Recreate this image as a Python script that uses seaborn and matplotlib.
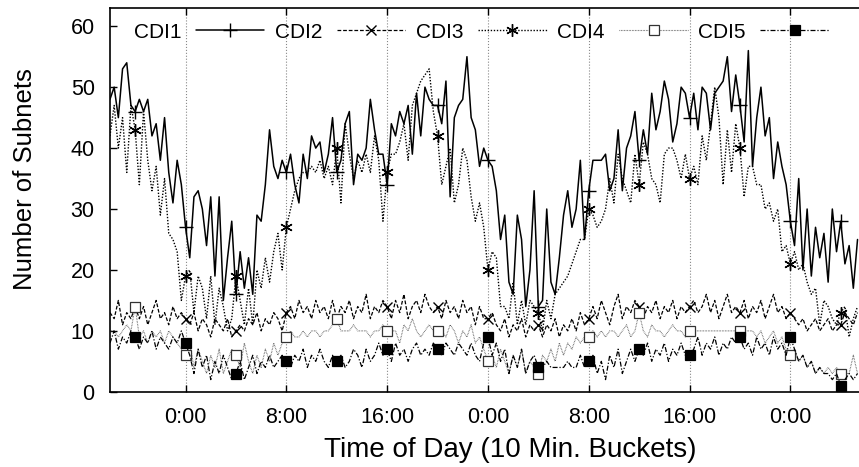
import numpy as np
import pandas as pd
import matplotlib
matplotlib.use('Agg')
import matplotlib.pyplot as plt
import seaborn as sns

# 20-minute samples, hours relative to the first midnight
horas = np.arange(179) / 3 - 6

cdi1 = [48, 50, 45, 53, 54, 47, 46, 48, 46, 48, 42, 44, 38, 45, 36, 31, 38, 34, 27, 22,
        32, 33, 30, 24, 32, 19, 32, 15, 22, 28, 16, 23, 17, 22, 16, 29, 28, 34, 43, 37,
        35, 38, 36, 39, 34, 31, 39, 35, 42, 40, 41, 36, 39, 45, 36, 38, 44, 46, 34, 39,
        38, 40, 48, 43, 39, 39, 34, 44, 42, 46, 44, 47, 39, 49, 42, 50, 48, 47, 47, 44,
        51, 32, 45, 47, 48, 55, 45, 43, 37, 40, 38, 37, 33, 25, 29, 18, 16, 29, 25, 14,
        20, 33, 14, 15, 30, 18, 16, 22, 29, 33, 27, 30, 38, 25, 33, 38, 38, 38, 39, 33,
        35, 43, 33, 40, 42, 46, 38, 43, 39, 49, 43, 46, 51, 48, 41, 44, 50, 49, 45, 49,
        43, 50, 49, 43, 49, 50, 51, 55, 46, 52, 47, 41, 56, 37, 45, 50, 42, 45, 35, 41,
        37, 34, 28, 24, 35, 20, 30, 19, 27, 22, 26, 18, 30, 23, 28, 21, 24, 17, 25]

cdi2 = [13, 12, 15, 11, 13, 12, 14, 12, 14, 11, 13, 15, 12, 13, 11, 14, 12, 13, 12, 11,
        13, 10, 12, 11, 9, 12, 11, 10, 12, 9, 10, 11, 10, 12, 11, 13, 10, 12, 11, 13,
        12, 10, 13, 14, 12, 15, 13, 14, 12, 15, 13, 14, 12, 15, 12, 14, 13, 15, 12, 14,
        13, 16, 12, 14, 13, 15, 14, 12, 15, 13, 16, 12, 14, 15, 13, 16, 14, 13, 14, 12,
        15, 13, 14, 12, 15, 13, 14, 11, 14, 12, 12, 13, 11, 10, 12, 9, 11, 10, 12, 9,
        11, 10, 11, 9, 11, 10, 12, 9, 11, 10, 12, 10, 13, 11, 12, 14, 12, 15, 13, 11,
        14, 16, 12, 14, 13, 15, 14, 12, 14, 13, 15, 12, 14, 13, 15, 12, 14, 13, 14, 15,
        13, 14, 16, 13, 15, 12, 14, 16, 13, 14, 13, 15, 12, 14, 13, 15, 12, 14, 16, 13,
        14, 12, 13, 12, 11, 12, 10, 11, 12, 10, 11, 12, 10, 11, 11, 13, 12, 11, 13]

cdi3 = [42, 47, 40, 45, 36, 47, 43, 34, 46, 38, 33, 37, 29, 35, 26, 25, 23, 15, 19, 20,
        13, 19, 17, 12, 19, 11, 17, 14, 10, 12, 19, 15, 11, 17, 11, 20, 17, 22, 18, 23,
        26, 20, 27, 30, 33, 35, 36, 36, 37, 36, 38, 35, 37, 34, 40, 31, 44, 39, 35, 38,
        36, 39, 36, 42, 38, 28, 36, 39, 39, 41, 44, 38, 47, 49, 51, 52, 53, 46, 42, 34,
        37, 40, 31, 34, 40, 38, 32, 28, 31, 27, 20, 23, 22, 14, 14, 12, 18, 11, 15, 11,
        15, 14, 13, 10, 15, 12, 16, 17, 18, 19, 21, 23, 25, 25, 30, 29, 27, 28, 30, 35,
        31, 39, 35, 33, 31, 39, 34, 41, 39, 35, 34, 31, 39, 40, 40, 38, 35, 39, 35, 37,
        34, 42, 38, 44, 50, 45, 34, 43, 36, 44, 40, 32, 37, 37, 34, 34, 30, 31, 28, 30,
        23, 24, 21, 23, 20, 21, 18, 16, 17, 11, 15, 14, 12, 11, 13, 14, 9, 12, 14]

cdi4 = [10, 10, 9, 10, 11, 10, 14, 9, 10, 8, 10, 9, 10, 8, 10, 9, 8, 7, 6, 8,
        4, 7, 5, 3, 6, 4, 7, 3, 5, 7, 6, 4, 8, 5, 3, 6, 4, 7, 5, 8,
        6, 8, 9, 10, 9, 9, 10, 9, 10, 10, 9, 10, 10, 11, 12, 10, 10, 10, 11, 10,
        10, 10, 9, 10, 10, 11, 10, 10, 10, 8, 11, 10, 12, 10, 9, 10, 11, 10, 10, 10,
        9, 11, 10, 8, 10, 9, 11, 8, 9, 7, 5, 6, 4, 7, 5, 3, 6, 4, 7, 3,
        5, 4, 3, 6, 5, 7, 5, 8, 6, 8, 7, 9, 8, 9, 9, 10, 9, 10, 9, 10,
        10, 9, 10, 11, 9, 10, 13, 10, 9, 11, 10, 10, 9, 10, 11, 10, 10, 9, 10, 10,
        10, 10, 10, 10, 10, 10, 10, 10, 10, 10, 10, 10, 10, 10, 9, 10, 8, 9, 10, 8,
        9, 7, 6, 7, 5, 6, 4, 5, 3, 4, 3, 4, 3, 4, 3, 3, 3, 6, 3]

cdi5 = [8, 10, 7, 9, 8, 10, 9, 7, 9, 8, 10, 7, 9, 8, 7, 9, 8, 10, 8, 6,
        3, 7, 4, 6, 2, 5, 3, 6, 4, 2, 3, 5, 2, 4, 6, 3, 5, 4, 6, 4,
        5, 6, 5, 4, 6, 5, 7, 4, 6, 5, 7, 5, 4, 6, 5, 6, 4, 5, 7, 6,
        4, 7, 5, 6, 8, 6, 7, 5, 8, 6, 7, 5, 7, 8, 6, 7, 6, 8, 7, 6,
        8, 7, 6, 8, 7, 6, 8, 6, 5, 8, 9, 6, 8, 5, 7, 3, 6, 4, 7, 3,
        5, 6, 4, 4, 5, 4, 4, 4, 4, 5, 4, 4, 6, 4, 5, 6, 3, 5, 2, 6,
        4, 7, 3, 5, 7, 5, 7, 6, 8, 5, 7, 6, 8, 5, 7, 6, 8, 6, 6, 7,
        9, 6, 8, 7, 9, 6, 8, 7, 9, 8, 9, 7, 8, 6, 9, 7, 8, 6, 9, 7,
        8, 6, 9, 7, 5, 6, 4, 5, 3, 4, 3, 3, 2, 3, 1, 2, 3, 2, 3]

nomes = ['CDI1', 'CDI2', 'CDI3', 'CDI4', 'CDI5']
tick_horas = [0, 8, 16, 24, 32, 40, 48]
tick_labels = ['0:00', '8:00', '16:00', '0:00', '8:00', '16:00', '0:00']

sns.set_style('ticks', {'text.color': 'black', 'axes.labelcolor': 'black',
                        'xtick.color': 'black', 'ytick.color': 'black',
                        'axes.edgecolor': 'black'})
plt.rcParams['font.family'] = ['Liberation Sans', 'DejaVu Sans']

fig = plt.figure(figsize=(8.59, 4.67), dpi=100)
ax = fig.add_axes([0.128, 0.161, 0.872, 0.822])

estilos = [
    dict(color='black', linestyle='-', lw=1.1, marker='+', ms=10, mew=1.0, mec='black'),
    dict(color='black', linestyle=(0, (3, 1.5)), lw=0.9, marker='x', ms=7, mew=1.0, mec='black'),
    dict(color='black', linestyle=(0, (1, 1.2)), lw=1.0, marker=(6, 2, 0), ms=9, mew=1.0, mec='black'),
    dict(color='#555555', linestyle=(0, (0.6, 0.8)), lw=0.8, marker='s', ms=7, mew=0.9,
         mfc='white', mec='#333333'),
    dict(color='black', linestyle=(0, (4, 1.5, 1, 1.5)), lw=0.9, marker='s', ms=7, mew=0.9,
         mfc='black', mec='black'),
]
series = [cdi1, cdi2, cdi3, cdi4, cdi5]

for nome, vals, st in zip(nomes, series, estilos):
    sns.lineplot(x=horas, y=vals, ax=ax, label=nome, markevery=(6, 12), **st)

ax.set_xlim(-6, 53.45)
ax.set_ylim(0, 63)
ax.set_xticks(tick_horas)
ax.set_xticklabels(tick_labels)
ax.set_yticks(range(0, 61, 10))
ax.grid(axis='x', linestyle=':', color='#888888', lw=0.8)
ax.tick_params(direction='in', top=True, right=False, length=5, width=1,
               labelsize=15.5, pad=11, colors='black')
ax.spines['right'].set_visible(False)
for s in ['left', 'top', 'bottom']:
    ax.spines[s].set_linewidth(1.2)

ax.set_xlabel('Time of Day (10 Min. Buckets)', fontsize=20)
ax.set_ylabel('Number of Subnets', fontsize=18.5)
ax.xaxis.set_label_coords(0.535, -0.118)
ax.yaxis.set_label_coords(-0.098, 0.555)

ax.legend(loc='upper left', bbox_to_anchor=(0.012, 1.0), ncol=5, frameon=False,
          markerfirst=False, fontsize=15, handlelength=3.3, handletextpad=0.7,
          columnspacing=0.5, borderaxespad=0.3, numpoints=1)

fig.savefig('out.png', dpi=100)
